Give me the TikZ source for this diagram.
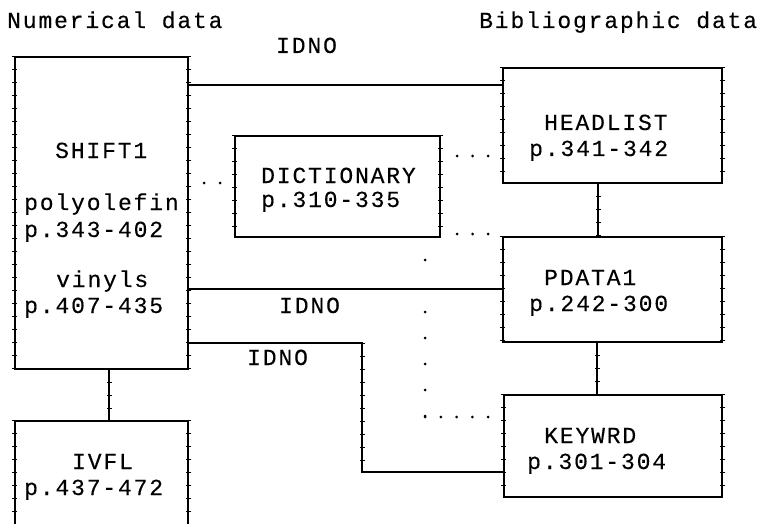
\documentclass[tikz,border=0pt]{standalone}
\usepackage{fontspec}
\newfontfamily\plotfont[LetterSpace=8,FakeBold=0.25]{Liberation Mono}
\usetikzlibrary{decorations.pathreplacing}
\begin{document}
\begin{tikzpicture}[x=1pt,y=-1pt,
  box/.style={draw, line width=1.5pt, inner sep=0pt},
  conn/.style={line width=1.5pt},
  tickdeco/.style={postaction={draw, line width=0.9pt, decorate,
      decoration={ticks, segment length=13pt, amplitude=2.5pt}}},
  txt/.style={anchor=base west, inner sep=0pt, font=\plotfont\fontsize{23}{26}\selectfont},
  dotrow/.style={line width=3pt, line cap=round, dash pattern=on 0pt off #1}]
\useasboundingbox (0,0) rectangle (760,524);

% boxes
\node[box, minimum width=173pt, minimum height=312pt] (shift) at (101.5,213) {};
\node[box, minimum width=173pt, minimum height=109pt] (ivfl) at (101.5,475.5) {};
\node[box, minimum width=205pt, minimum height=101pt] (dict) at (337.5,186.5) {};
\node[box, minimum width=219pt, minimum height=115pt] (head) at (612.5,125.5) {};
\node[box, minimum width=219pt, minimum height=105pt] (pdata) at (612.5,289.5) {};
\node[box, minimum width=218pt, minimum height=102pt] (key) at (613,446) {};
\foreach \n in {shift,ivfl,dict,head,pdata,key}{
  \path[tickdeco] (\n.north west) -- (\n.south west);
  \path[tickdeco] (\n.north east) -- (\n.south east);
}

% texts
\node[txt] (tnum) at (7,28) {Numerical data};
\node[txt] (tbib) at (479,28) {Bibliographic data};
\node[txt] (id1) at (276,53) {IDNO};
\node[txt] (s1) at (55,158) {SHIFT1};
\node[txt] (s2) at (24,210) {polyolefin};
\node[txt] (s3) at (24,237) {p.343-402};
\node[txt] (s4) at (56,287) {vinyls};
\node[txt] (s5) at (24,313) {p.407-435};
\node[txt] (d1) at (261,183) {DICTIONARY};
\node[txt] (d2) at (261,207) {p.310-335};
\node[txt] (h1) at (544,130) {HEADLIST};
\node[txt] (h2) at (529,156) {p.341-342};
\node[txt] (p1) at (544,285) {PDATA1};
\node[txt] (p2) at (529,311) {p.242-300};
\node[txt] (k1) at (544,443) {KEYWRD};
\node[txt] (k2) at (527,469) {p.301-304};
\node[txt] (i1) at (72,469) {IVFL};
\node[txt] (i2) at (24,495) {p.437-472};
\node[txt] (id2) at (279,313) {IDNO};
\node[txt] (id3) at (247,365) {IDNO};

% solid connectors
\coordinate (y1) at (0,85);
\coordinate (y2) at (0,289);
\coordinate (c3) at (362,343);
\coordinate (y4) at (0,472);
\draw[conn] (shift.east |- y1) -- (head.west |- y1);
\draw[conn] (shift.east |- y2) -- (pdata.west |- y2);
\draw[conn] (shift.east |- c3) -- (c3) -- (c3 |- y4) -- (key.west |- y4);
\path[tickdeco] (c3) -- (c3 |- y4);
\draw[conn, tickdeco] ([xshift=7.5pt]shift.south) -- ([xshift=7.5pt]shift.south |- ivfl.north);
\draw[conn, tickdeco] ([xshift=-14.5pt]head.south) -- ([xshift=-14.5pt]head.south |- pdata.north);
\draw[conn, tickdeco] ([xshift=-15.5pt]pdata.south) -- ([xshift=-15.5pt]pdata.south |- key.north);

% dotted connectors
\coordinate (a1) at (204,183); \coordinate (a2) at (220.5,183);
\coordinate (b1) at (457,156); \coordinate (b2) at (488.5,156);
\coordinate (e1) at (457,234); \coordinate (e2) at (488.5,234);
\coordinate (v1) at (425,260); \coordinate (v2) at (425,417);
\coordinate (w2) at (488.5,417);
\draw[dotrow=16pt] (a1) -- (a2);
\draw[dotrow=15.5pt] (b1) -- (b2);
\draw[dotrow=15.5pt] (e1) -- (e2);
\draw[line width=3pt, line cap=round, dash pattern=on 0pt off 52pt on 0pt off 26pt on 0pt off 26pt on 0pt off 26pt on 0pt off 26pt on 0pt off 30pt] (v1) -- ([yshift=0.5pt]v2);
\draw[dotrow=15.75pt] (v2) -- (w2);
\end{tikzpicture}
\end{document}
